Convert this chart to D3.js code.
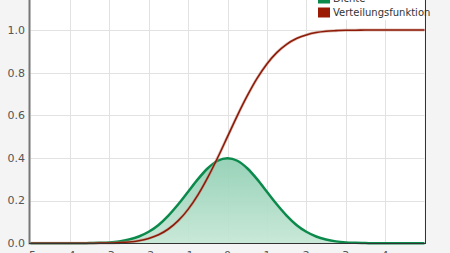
<!DOCTYPE html>
<html>
<head>
<meta charset="utf-8">
<script src="https://cdn.jsdelivr.net/npm/d3@7"></script>
<style>
  body { margin: 0; background: #f4f4f4; }
  svg { display: block; font-family: "DejaVu Sans", Verdana, sans-serif; }
</style>
</head>
<body>
<div id="chart"></div>
<script>
//Width and height
var w = 450;
var h = 253;

// x positions (step 0.25 from -5 to 5)
var xValues = d3.range(41).map(function (i) { return -5 + i * 0.25; });

// Dichte
var densityValues = [
	0, 0, 0, 0, 0, 0, 0.001, 0.002, 0.004, 0.009,
	0.018, 0.032, 0.054, 0.086, 0.130, 0.183, 0.242, 0.301, 0.352, 0.387,
	0.399,
	0.387, 0.352, 0.301, 0.242, 0.183, 0.130, 0.086, 0.054, 0.032, 0.018,
	0.009, 0.004, 0.002, 0.001, 0, 0, 0, 0, 0, 0
];

// Verteilungsfunktion
var cdfValues = [
	0, 0, 0, 0, 0, 0, 0, 0.001, 0.001, 0.003,
	0.006, 0.012, 0.023, 0.040, 0.067, 0.106, 0.159, 0.227, 0.309, 0.401,
	0.500,
	0.599, 0.691, 0.773, 0.841, 0.894, 0.933, 0.960, 0.977, 0.988, 0.994,
	0.997, 0.999, 0.999, 1, 1, 1, 1, 1, 1, 1
];

var xTicks = [-5, -4, -3, -2, -1, 0, 1, 2, 3, 4];
var yTicks = [0, 0.2, 0.4, 0.6, 0.8, 1.0];
var legendLabels = ["Dichte", "Verteilungsfunktion"];

var x = d3.scaleLinear().domain([-5, 5]).range([30.5, 424.5]);
var y = d3.scaleLinear().domain([0, 1]).range([243.3, 30]);

var svg = d3.select("#chart")
	.append("svg")
	.attr("width", w)
	.attr("height", h);

// gradient for area
var defs = svg.append("defs");
var grad = defs.append("linearGradient")
	.attr("id", "areaGrad")
	.attr("x1", 0).attr("y1", 0).attr("x2", 0).attr("y2", 1);
grad.append("stop").attr("offset", "0%").attr("stop-color", "#92d0b4");
grad.append("stop").attr("offset", "100%").attr("stop-color", "#c6e7d6");

// plot background
svg.append("rect")
	.attr("x", x(-5))
	.attr("y", -10)
	.attr("width", x(5) - x(-5))
	.attr("height", y(0) + 10)
	.attr("fill", "#fff");

// grid
svg.append("g")
	.selectAll("line")
	.data(yTicks)
	.enter()
	.append("line")
	.attr("x1", x(-5))
	.attr("x2", x(5))
	.attr("y1", function (d) { return Math.round(y(d)) + 0.5; })
	.attr("y2", function (d) { return Math.round(y(d)) + 0.5; })
	.attr("stroke", "#e2e2e2");

svg.append("g")
	.selectAll("line")
	.data(xTicks.slice(1))
	.enter()
	.append("line")
	.attr("x1", function (d) { return Math.round(x(d)) + 0.5; })
	.attr("x2", function (d) { return Math.round(x(d)) + 0.5; })
	.attr("y1", -10)
	.attr("y2", y(0))
	.attr("stroke", "#e2e2e2");

var pts = xValues.map(function (v, i) {
	return { x: v, d: densityValues[i], c: cdfValues[i] };
});

var area = d3.area()
	.x(function (d) { return x(d.x); })
	.y0(y(0))
	.y1(function (d) { return y(d.d); })
	.curve(d3.curveMonotoneX);

svg.append("path")
	.datum(pts)
	.attr("fill", "url(#areaGrad)")
	.attr("fill-opacity", 0.95)
	.attr("d", area);

var densityLine = d3.line()
	.x(function (d) { return x(d.x); })
	.y(function (d) { return y(d.d); })
	.curve(d3.curveMonotoneX);

var cdfLine = d3.line()
	.x(function (d) { return x(d.x); })
	.y(function (d) { return y(d.c); })
	.curve(d3.curveMonotoneX);

svg.append("path")
	.datum(pts)
	.attr("fill", "none")
	.attr("stroke", "#0b8a4c")
	.attr("stroke-width", 2.5)
	.attr("d", densityLine);

svg.append("path")
	.datum(pts)
	.attr("fill", "none")
	.attr("stroke", "#c08878")
	.attr("stroke-opacity", 0.5)
	.attr("stroke-width", 3)
	.attr("d", cdfLine);

svg.append("path")
	.datum(pts)
	.attr("fill", "none")
	.attr("stroke", "#8e1a08")
	.attr("stroke-width", 1.6)
	.attr("d", cdfLine);

// axes lines
svg.append("line")
	.attr("x1", 29.5).attr("x2", 29.5)
	.attr("y1", -10).attr("y2", y(0) + 1)
	.attr("stroke", "#777")
	.attr("stroke-width", 2);

svg.append("line")
	.attr("x1", 29).attr("x2", 425.5)
	.attr("y1", 243.5).attr("y2", 243.5)
	.attr("stroke", "#333");

svg.append("line")
	.attr("x1", 425.5).attr("x2", 425.5)
	.attr("y1", -10).attr("y2", 244)
	.attr("stroke", "#333");

// y labels
svg.append("g")
	.selectAll("text")
	.data(yTicks)
	.enter()
	.append("text")
	.attr("x", 25)
	.attr("y", function (d) { return y(d); })
	.attr("dy", "0.35em")
	.attr("text-anchor", "end")
	.attr("font-size", 11)
	.attr("fill", "#555")
	.text(function (d) { return d.toFixed(1); });

// x labels (cut by the bottom edge, as in the reference)
svg.append("g")
	.selectAll("text")
	.data(xTicks)
	.enter()
	.append("text")
	.attr("x", function (d) { return x(d); })
	.attr("y", 258.5)
	.attr("text-anchor", "middle")
	.attr("font-size", 11)
	.attr("fill", "#555")
	.text(function (d) { return d; });

// Legend
svg.append("rect")
	.attr("x", 312)
	.attr("y", -20)
	.attr("width", 112)
	.attr("height", 40)
	.attr("fill", "#fff");

var legendColor = d3.scaleOrdinal()
	.domain(legendLabels)
	.range(["#0b8a4c", "#9a1a04"]);

var items = svg.selectAll("g.legend")
	.data(legendLabels)
	.enter()
	.append("g")
	.attr("class", "legend")
	.attr("transform", function (d, i) {
		return "translate(318," + (-2 + i * 14) + ")";
	});

items.append("rect")
	.attr("x", 0)
	.attr("y", -4.5)
	.attr("width", 12)
	.attr("height", 10)
	.attr("fill", function (d) { return legendColor(d); });

items.append("text")
	.attr("x", 15)
	.attr("y", 0)
	.attr("dy", "0.35em")
	.attr("font-size", 10)
	.attr("fill", "#333")
	.text(function (d) { return d; });
</script>
</body>
</html>
